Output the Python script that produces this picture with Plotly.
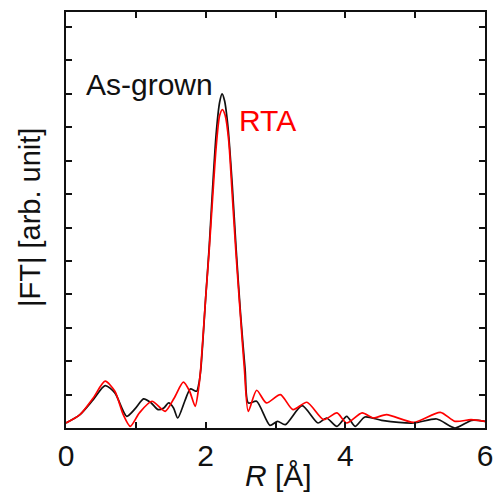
import plotly.graph_objects as go

# Black: As-grown
asgrown_r = [0.0, 0.2, 0.39, 0.56, 0.70, 0.87, 1.0, 1.11, 1.22, 1.32, 1.40, 1.47, 1.54, 1.60, 1.70, 1.78, 1.87,
             1.90, 1.93, 2.00, 2.05, 2.10, 2.15, 2.20, 2.235, 2.27, 2.32, 2.38, 2.435, 2.50, 2.565,
             2.61, 2.73, 2.92, 3.03, 3.14, 3.38, 3.61, 3.73, 3.88, 4.02, 4.14, 4.28, 4.52, 4.98, 5.31, 5.57, 5.81, 6.0]
asgrown_ft = [0.15, 0.4, 0.85, 1.27, 1.05, 0.35, 0.6, 0.87, 0.75, 0.55, 0.6, 0.75, 0.6, 0.3, 0.8, 1.17, 1.1,
              1.3, 1.75, 3.9, 5.4, 7.2, 8.8, 9.75, 10.0, 9.8, 9.0, 7.3, 5.4, 3.4, 1.75,
              0.75, 0.8, 0.08, 0.2, 0.1, 0.67, 0.15, 0.3, 0.05, 0.35, 0.05, 0.33, 0.23, 0.15, 0.27, 0.0, 0.23, 0.2]

# Red: RTA
rta_r = [0.0, 0.2, 0.39, 0.56, 0.70, 0.82, 0.92, 1.05, 1.23, 1.42, 1.55, 1.68, 1.77, 1.85,
         1.90, 1.93, 2.00, 2.05, 2.10, 2.15, 2.20, 2.24, 2.28, 2.33, 2.38, 2.435, 2.50, 2.555,
         2.61, 2.73, 2.87, 3.07, 3.25, 3.45, 3.69, 3.88, 4.02, 4.24, 4.40, 4.59, 4.98, 5.36, 5.57, 5.8, 6.0]
rta_ft = [0.15, 0.4, 0.9, 1.40, 1.1, 0.4, 0.05, 0.45, 0.80, 0.50, 0.9, 1.37, 1.1, 0.65,
          1.2, 1.8, 3.9, 5.3, 6.9, 8.4, 9.35, 9.53, 9.35, 8.6, 7.0, 5.2, 3.3, 1.75,
          0.5, 1.13, 0.75, 1.0, 0.55, 0.77, 0.25, 0.45, 0.15, 0.45, 0.3, 0.4, 0.17, 0.47, 0.2, 0.25, 0.2]

x_ticks = [0, 1, 2, 3, 4, 5, 6]
x_ticklabels = ["0", "", "2", "", "4", "", "6"]

FONT = "Liberation Sans"

fig = go.Figure()
fig.add_trace(go.Scatter(x=asgrown_r, y=asgrown_ft, mode="lines",
                         line=dict(color="#111111", width=1.7, shape="spline", smoothing=0.7),
                         name="As-grown", showlegend=False))
fig.add_trace(go.Scatter(x=rta_r, y=rta_ft, mode="lines",
                         line=dict(color="#ff0000", width=1.7, shape="spline", smoothing=0.7),
                         name="RTA", showlegend=False))

fig.add_annotation(x=2.135, y=10.28, xref="x", yref="y", text="As-grown", showarrow=False,
                   xanchor="right", yanchor="middle", font=dict(family=FONT, size=30, color="#111111"))
fig.add_annotation(x=2.445, y=9.2, xref="x", yref="y", text="RTA", showarrow=False,
                   xanchor="left", yanchor="middle", font=dict(family=FONT, size=30, color="#ff0000"))

# axis titles
fig.add_annotation(x=0.506, y=-0.113, xref="paper", yref="paper", text="<i>R</i> [Å]", showarrow=False,
                   xanchor="center", yanchor="middle", font=dict(family=FONT, size=30, color="#111111"))
fig.add_annotation(x=-0.086, y=0.507, xref="paper", yref="paper", text="|FT| [arb. unit]", showarrow=False,
                   textangle=-90, xanchor="center", yanchor="middle",
                   font=dict(family=FONT, size=29, color="#111111"))

fig.update_layout(
    width=496, height=493,
    margin=dict(l=66, r=11, t=12, b=65, autoexpand=False),
    plot_bgcolor="white", paper_bgcolor="white",
    font=dict(family=FONT, size=30, color="#111111"),
)
fig.update_xaxes(range=[0, 6], tickmode="array", tickvals=x_ticks, ticktext=x_ticklabels,
                 ticks="inside", ticklen=6, tickwidth=1.5, tickcolor="#111111",
                 showline=True, linewidth=2, linecolor="#111111", mirror="ticks",
                 showgrid=False, zeroline=False, automargin=False)
fig.update_yaxes(range=[0, 12.45], tickmode="linear", tick0=0, dtick=1, showticklabels=False,
                 ticks="inside", ticklen=6, tickwidth=1.5, tickcolor="#111111",
                 showline=True, linewidth=2, linecolor="#111111", mirror="ticks",
                 showgrid=False, zeroline=False, automargin=False)

fig.write_html("out.html", config={"displayModeBar": False},
               post_script="document.body.style.margin='0px';")
